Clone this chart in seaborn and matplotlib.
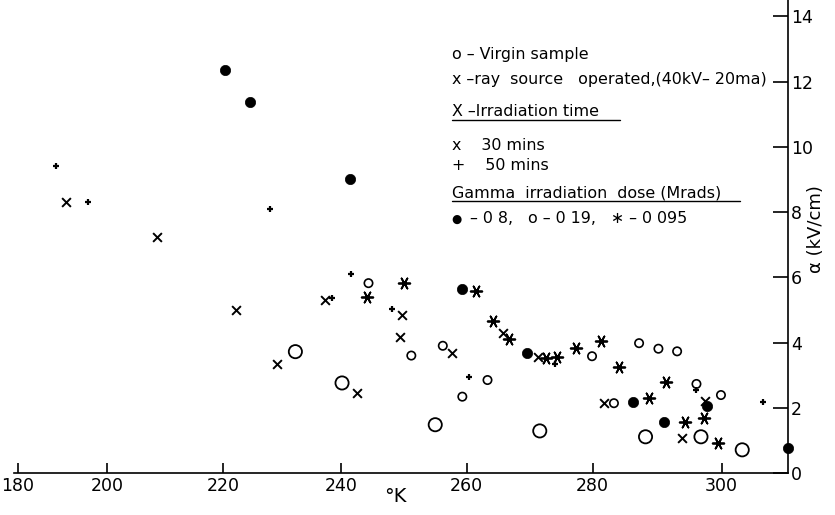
import numpy as np
import pandas as pd
import matplotlib
matplotlib.use("Agg")
import matplotlib.pyplot as plt
import seaborn as sns
from matplotlib.lines import Line2D

# ---- data (temperature in K, alpha in kV/cm) ----
virgin_T = [232.3, 240.2, 255.0, 271.6, 288.2, 296.8, 303.2]
virgin_a = [3.72, 2.76, 1.48, 1.29, 1.11, 1.11, 0.71]

xray30_T = [190.8, 208.7, 222.3, 229.1, 237.4, 242.6, 249.7, 249.4, 257.6, 265.7, 271.3, 281.8, 293.9, 297.5]
xray30_a = [8.31, 7.22, 5.00, 3.34, 5.31, 2.44, 4.83, 4.18, 3.67, 4.30, 3.55, 2.16, 1.08, 2.21]

xray50_T = [188.6, 195.8, 228.0, 241.6, 238.5, 248.2, 260.3, 274.0, 296.0, 306.4]
xray50_a = [9.42, 8.30, 8.09, 6.10, 5.38, 5.03, 2.95, 3.34, 2.54, 2.19]

g08_T = [220.4, 224.6, 241.5, 259.3, 269.6, 286.2, 291.0, 297.7, 310.3]
g08_a = [12.34, 11.37, 9.02, 5.64, 3.69, 2.18, 1.55, 2.04, 0.76]

g019_T = [244.4, 251.2, 256.2, 263.3, 259.3, 279.9, 283.3, 287.2, 290.2, 293.1, 296.1, 299.9]
g019_a = [5.82, 3.60, 3.90, 2.85, 2.34, 3.58, 2.14, 3.98, 3.81, 3.73, 2.73, 2.39]

g0095_T = [244.2, 250.1, 261.4, 264.1, 266.7, 272.6, 274.4, 277.4, 281.3, 284.1, 288.8, 291.4, 294.4, 297.2, 299.5]
g0095_a = [5.41, 5.82, 5.59, 4.67, 4.10, 3.52, 3.57, 3.84, 4.04, 3.24, 2.29, 2.78, 1.56, 1.70, 0.93]

x_ticks = [180, 200, 220, 240, 260, 280, 300]
y_ticks = [0, 2, 4, 6, 8, 10, 12, 14]

legend_lines = [
    "o – Virgin sample",
    "x –ray  source   operated,(40kV– 20ma)",
    "X –Irradiation time",
    "x    30 mins",
    "+    50 mins",
    "Gamma  irradiation  dose (Mrads)",
]
dose_line = "– 0 8,   o – 0 19,   ∗ – 0 095"

# ---- style ----
sns.set_theme(style="white")
plt.rcParams["font.family"] = ["DejaVu Sans"]

W, H = 835, 515
fig = plt.figure(figsize=(W / 100, H / 100), dpi=100)

px_left, px_right, px_bottom, px_top = 13.5, 788.0, 473.0, 0.0
ax = fig.add_axes([px_left / W, 1 - px_bottom / H,
                   (px_right - px_left) / W, (px_bottom - px_top) / H])

# hand-drawn (non-uniform) temperature axis of the original
K_knots = [170, 180, 200, 220, 240, 260, 280, 300, 320]
P_knots = [-26.5, 18, 107, 223, 341, 467, 593, 722, 851]

def fwd(x):
    return np.interp(x, K_knots, P_knots)

def inv(p):
    return np.interp(p, P_knots, K_knots)

ax.set_xscale("function", functions=(fwd, inv))

k = "black"
sns.scatterplot(x=virgin_T, y=virgin_a, ax=ax, marker="o", s=90,
                facecolor="none", edgecolor=k, linewidth=1.3, clip_on=False)
sns.scatterplot(x=g019_T, y=g019_a, ax=ax, marker="o", s=36,
                facecolor="none", edgecolor=k, linewidth=1.2, clip_on=False)
sns.scatterplot(x=g08_T, y=g08_a, ax=ax, marker="o", s=55,
                color=k, edgecolor=k, linewidth=0.5, clip_on=False)
sns.scatterplot(x=xray30_T, y=xray30_a, ax=ax, marker="x", s=40,
                color=k, linewidth=1.4, clip_on=False)
sns.scatterplot(x=xray50_T, y=xray50_a, ax=ax, marker="+", s=22,
                color=k, linewidth=1.6, clip_on=False)
sns.scatterplot(x=g0095_T, y=g0095_a, ax=ax, marker=(6, 2, 90), s=70,
                color=k, linewidth=1.3, clip_on=False)

ax.set_xlim(179, 310.3)
ax.set_ylim(0, 14.5)
ax.set_xticks(x_ticks)
ax.set_xticklabels([str(t) for t in x_ticks])
ax.set_yticks(y_ticks)
ax.set_yticklabels([str(t) for t in y_ticks])
ax.minorticks_off()

for s in ["top", "left"]:
    ax.spines[s].set_visible(False)
for s in ["bottom", "right"]:
    ax.spines[s].set_visible(True)
    ax.spines[s].set_color(k)
    ax.spines[s].set_linewidth(1.2)

ax.yaxis.tick_right()
ax.tick_params(axis="y", which="major", direction="in", length=11, width=1.2,
               labelsize=12.5, pad=2, colors=k, right=True, left=False)
ax.tick_params(axis="x", which="major", direction="in", length=7, width=1.2,
               labelsize=12.5, pad=3, colors=k, bottom=True)
ax.set_xlabel("")
ax.set_ylabel("")
ax.grid(False)

def fx(px):
    return px / W

def fy(py):
    return 1 - py / H

fig.text(fx(395), fy(496), "°K", ha="center", va="center", fontsize=14, color=k)
fig.text(fx(816), fy(229), "α (kV/cm)", ha="center", va="center", rotation=90,
         fontsize=13, color=k)

# text legend
leg_y = [55, 80, 112, 145, 166, 193]
for t, yy in zip(legend_lines, leg_y):
    fig.text(fx(452), fy(yy), t, ha="left", va="center", fontsize=11.4, color=k)
fig.text(fx(451), fy(219), "●", ha="left", va="center", fontsize=8.5, color=k)
fig.text(fx(470), fy(219), dose_line, ha="left", va="center", fontsize=11.4, color=k)
fig.add_artist(Line2D([fx(452), fx(620)], [fy(120), fy(120)], color=k, lw=1.0))
fig.add_artist(Line2D([fx(452), fx(740)], [fy(201), fy(201)], color=k, lw=1.0))

fig.savefig("out.png", dpi=100)
